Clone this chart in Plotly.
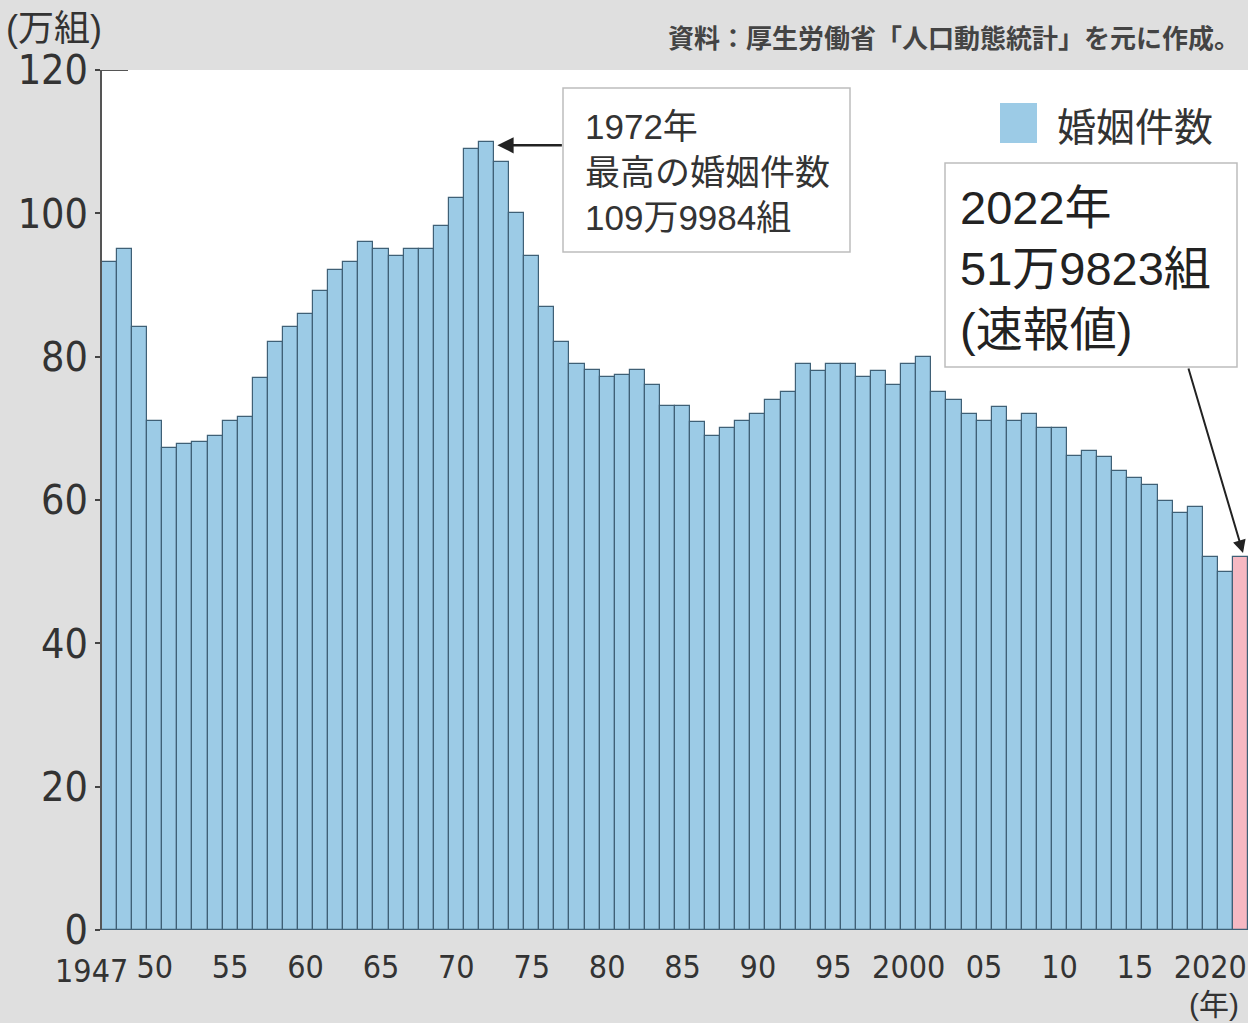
import plotly.graph_objects as go

# ---- data (万組) ----
years = list(range(1947, 2023))
marriages = [
    93.2, 95.0, 84.1, 71.0, 67.2, 67.8, 68.1, 69.0, 71.0, 71.6,   # 1947-1956
    77.0, 82.0, 84.1, 86.0, 89.2, 92.1, 93.2, 96.0, 95.0, 94.1,   # 1957-1966
    95.0, 95.0, 98.2, 102.1, 109.0, 110.0, 107.1, 100.0, 94.0, 87.0,  # 1967-1976
    82.0, 79.0, 78.1, 77.2, 77.5, 78.1, 76.0, 73.1, 73.1, 70.9,   # 1977-1986
    69.0, 70.0, 71.0, 72.0, 74.0, 75.1, 79.0, 78.0, 79.0, 79.0,   # 1987-1996
    77.1, 78.0, 76.1, 79.0, 80.0, 75.1, 74.0, 72.0, 71.0, 73.0,   # 1997-2006
    71.0, 72.0, 70.0, 70.0, 66.2, 66.8, 66.0, 64.1, 63.1, 62.1,   # 2007-2016
    59.9, 58.2, 59.0, 52.1, 50.0, 52.0                            # 2017-2022
]
tick_vals = [1950, 1955, 1960, 1965, 1970, 1975, 1980, 1985, 1990,
             1995, 2000, 2005, 2010, 2015, 2020]
tick_text = ["50", "55", "60", "65", "70", "75", "80", "85", "90",
             "95", "2000", "05", "10", "15", "2020"]
first_label = "1947"
y_ticks = [0, 20, 40, 60, 80, 100, 120]

BLUE = "#9ccbe6"
PINK = "#f6b8c2"
EDGE = "#3f6076"
TXT = "#333333"
BG = "#dfdfdf"
NUM = "Liberation Sans Narrow, DejaVu Sans Condensed, Liberation Sans, sans-serif"
JP = "Liberation Sans, Noto Sans CJK JP, sans-serif"

colors = [BLUE] * (len(years) - 1) + [PINK]

# pixel -> paper helpers (plot area: x 102..1248, y 70..930)
L, R, T, B = 102, 1248, 70, 930
def px(x):
    return (x - L) / (R - L)
def py(y):
    return (B - y) / (B - T)

fig = go.Figure()
fig.add_trace(go.Bar(
    x=years, y=marriages,
    marker=dict(color=colors, line=dict(color=EDGE, width=1.2)),
    width=1.0, showlegend=False, hoverinfo="x+y",
))

fig.update_layout(
    width=1248, height=1023,
    margin=dict(l=L, r=1248 - R, t=T, b=1023 - B),
    paper_bgcolor=BG, plot_bgcolor="white",
    bargap=0,
    xaxis=dict(range=[1946.5, 2022.5], tickmode="array", tickvals=tick_vals,
               ticktext=tick_text, showgrid=False, zeroline=False, showline=False,
               ticks="", tickfont=dict(family=NUM, size=32, color=TXT),
               ticklabelstandoff=15, ticklabeloverflow="allow"),
    yaxis=dict(range=[0, 120], tickmode="array", tickvals=y_ticks,
               showgrid=False, zeroline=False, showline=True, linecolor="#555555",
               linewidth=1.5, ticks="outside", ticklen=5, tickwidth=2,
               tickcolor="#444444", ticklabelstandoff=-1,
               tickfont=dict(family=NUM, size=41, color=TXT)),
    font=dict(family=JP, color=TXT),
)

shapes = []
# top tick at 120 extending into plot
shapes.append(dict(type="line", xref="paper", yref="y", x0=0, x1=px(128),
                   y0=120, y1=120, line=dict(color="#555555", width=2)))
# annotation boxes
shapes.append(dict(type="rect", xref="paper", yref="paper",
                   x0=px(563), x1=px(850), y0=py(252), y1=py(88),
                   fillcolor="white", line=dict(color="#bdbdbd", width=1.5)))
shapes.append(dict(type="rect", xref="paper", yref="paper",
                   x0=px(945), x1=px(1237), y0=py(367), y1=py(163),
                   fillcolor="white", line=dict(color="#bdbdbd", width=1.5)))
# legend swatch
shapes.append(dict(type="rect", xref="paper", yref="paper",
                   x0=px(1000), x1=px(1037), y0=py(143), y1=py(103),
                   fillcolor=BLUE, line=dict(width=0)))
fig.update_layout(shapes=shapes)

ann = []
ann.append(dict(xref="paper", yref="paper", x=px(1055), y=py(124),
                xanchor="left", yanchor="middle", showarrow=False,
                text="婚姻件数", font=dict(family="Noto Sans CJK JP", size=39, color=TXT)))
ann.append(dict(xref="paper", yref="paper", x=px(583), y=py(172),
                xanchor="left", yanchor="middle", align="left", showarrow=False,
                text="1972年<br>最高の婚姻件数<br>109万9984組",
                font=dict(family=JP, size=35, color=TXT)))
ann.append(dict(xref="paper", yref="paper", x=px(958), y=py(268),
                xanchor="left", yanchor="middle", align="left", showarrow=False,
                text="2022年<br>51万9823組<br>(速報値)",
                font=dict(family=JP, size=47, color="#222222")))
# arrows
ann.append(dict(x=years[25] + 0.72, y=109.5, xref="x", yref="y", text="",
                showarrow=True, arrowhead=2, arrowsize=1.3, arrowwidth=2.5,
                arrowcolor="#222222", ax=66, ay=0, standoff=0))
ann.append(dict(x=years[-1] + 0.17, y=marriages[-1] + 0.6, xref="x", yref="y", text="",
                showarrow=True, arrowhead=2, arrowsize=1.3, arrowwidth=2,
                arrowcolor="#222222", ax=-55, ay=-186, standoff=0))
# first year label (shifted left as in the original)
ann.append(dict(xref="paper", yref="paper", x=px(91), y=py(971),
                xanchor="center", yanchor="middle", showarrow=False,
                text=first_label, font=dict(family=NUM, size=32, color=TXT)))
# header texts
ann.append(dict(xref="paper", yref="paper", x=px(4), y=py(28),
                xanchor="left", yanchor="middle", showarrow=False,
                text="(万組)", font=dict(family=JP, size=36, color=TXT)))
ann.append(dict(xref="paper", yref="paper", x=px(1242), y=py(37),
                xanchor="right", yanchor="middle", showarrow=False,
                text="<b>資料：厚生労働省「人口動態統計」を元に作成。</b>",
                font=dict(family="Noto Sans CJK JP", size=26, color="#444444")))
ann.append(dict(xref="paper", yref="paper", x=px(1214), y=py(1004),
                xanchor="center", yanchor="middle", showarrow=False,
                text="(年)", font=dict(family=JP, size=30, color=TXT)))
fig.update_layout(annotations=ann)

fig.write_html("out.html", config={"displayModeBar": False},
               post_script="document.body.style.margin='0';document.body.style.overflow='hidden';")
